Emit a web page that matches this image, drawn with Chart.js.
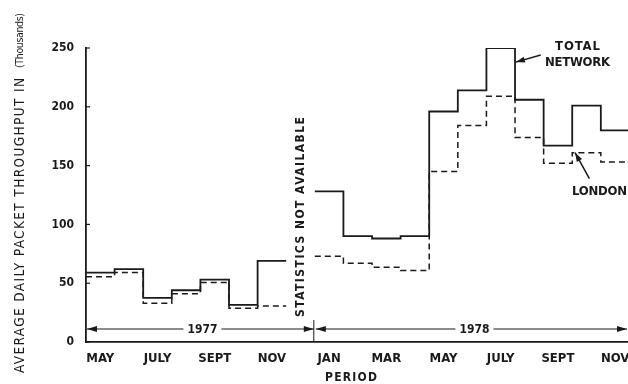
<!DOCTYPE html>
<html>
<head>
<meta charset="utf-8">
<script src="https://cdn.jsdelivr.net/npm/chart.js@4"></script>
<style>
    html, body { margin: 0; padding: 0; background: #fff; }
    #chart { display: block; }
</style>
</head>
<body>
<canvas id="chart" width="628" height="384"></canvas>
<script>
// months from May 1977 (index 0) to Nov 1978 (index 18); Dec 1977 has no data
const totalNetwork = [59, 62, 37.5, 44, 53, 31.5, 69, null, 128, 90, 88, 90, 196, 214, 250, 206, 167, 201, 180];
const london = [55.5, 59, 33, 41, 50.5, 28.7, 30.6, null, 73, 67, 63.5, 60.7, 145, 184, 209, 174, 152, 161, 153];
const tickMonths = [0.5, 2.5, 4.5, 6.5, 8.5, 10.5, 12.5, 14.5, 16.5, 18.5];
const tickLabels = ['MAY', 'JULY', 'SEPT', 'NOV', 'JAN', 'MAR', 'MAY', 'JULY', 'SEPT', 'NOV'];
const yTicks = [0, 50, 100, 150, 200, 250];
const years = [
    { label: '1977', from: 0, to: 8, shift: 2 },
    { label: '1978', from: 8, to: 19, shift: 3 }
];

const FONT = '"DejaVu Sans Condensed", "Liberation Sans Narrow", sans-serif';
const INK = '#1a1a1a';

// each month is drawn as a flat step; runs end at the start of the next month
function toSteps(values) {
    const pts = [];
    values.forEach((v, i) => {
        if (v === null) {
            pts.push({ x: i + 0.5, y: null });
            return;
        }
        pts.push({ x: i, y: v });
        if (i === values.length - 1 || values[i + 1] === null) {
            pts.push({ x: i + 1, y: v });
        }
    });
    return pts;
}

function arrowHead(ctx, x, y, angle, len, w) {
    ctx.save();
    ctx.translate(x, y);
    ctx.rotate(angle);
    ctx.beginPath();
    ctx.moveTo(0, 0);
    ctx.lineTo(-len, -w);
    ctx.lineTo(-len, w);
    ctx.closePath();
    ctx.fill();
    ctx.restore();
}

// draw text starting at x, spread so it is `width` long
function spreadText(ctx, text, x, y, width) {
    ctx.letterSpacing = '0px';
    const base = ctx.measureText(text).width;
    const gap = (width - base) / Math.max(text.length - 1, 1);
    ctx.letterSpacing = gap + 'px';
    ctx.textAlign = 'left';
    ctx.fillText(text, x, y);
    ctx.letterSpacing = '0px';
}

const annotations = {
    id: 'annotations',
    afterDraw(chart) {
        const ctx = chart.ctx;
        const x = chart.scales.x;
        const y = chart.scales.y;
        const area = chart.chartArea;
        ctx.save();
        ctx.fillStyle = INK;
        ctx.strokeStyle = INK;

        // y tick marks inside the axis
        ctx.lineWidth = 1.2;
        yTicks.forEach(t => {
            const py = y.getPixelForValue(t);
            ctx.beginPath();
            ctx.moveTo(area.left, py);
            ctx.lineTo(area.left + 4, py);
            ctx.stroke();
        });

        // year spans
        const yy = area.bottom - 13;
        ctx.font = 'bold 12px ' + FONT;
        ctx.textBaseline = 'middle';
        years.forEach(yr => {
            const x0 = x.getPixelForValue(yr.from) + 1;
            const x1 = Math.min(x.getPixelForValue(yr.to), chart.width) - 1;
            const cx = (x0 + x1) / 2 + yr.shift;
            const half = ctx.measureText(yr.label).width / 2 + 4;
            ctx.lineWidth = 1.2;
            ctx.beginPath();
            ctx.moveTo(x0, yy);
            ctx.lineTo(cx - half, yy);
            ctx.moveTo(cx + half, yy);
            ctx.lineTo(x1, yy);
            ctx.stroke();
            arrowHead(ctx, x0, yy, Math.PI, 10, 3);
            arrowHead(ctx, x1, yy, 0, 10, 3);
            ctx.textAlign = 'center';
            ctx.fillText(yr.label, cx, yy + 1);
        });
        // divider between the years
        const dx = x.getPixelForValue(8) - 1;
        ctx.lineWidth = 1;
        ctx.beginPath();
        ctx.moveTo(dx, area.bottom - 22);
        ctx.lineTo(dx, area.bottom);
        ctx.stroke();

        // y axis title, rotated; runs from y=373 up to y=13
        ctx.save();
        ctx.translate(20, 0);
        ctx.rotate(-Math.PI / 2);
        ctx.font = '13.5px ' + FONT;
        spreadText(ctx, 'AVERAGE DAILY PACKET THROUGHPUT IN', -373, 0, 295);
        ctx.font = '10.5px ' + FONT;
        spreadText(ctx, '(Thousands)', -68, 0, 55);
        ctx.restore();

        ctx.font = 'bold 12px ' + FONT;
        spreadText(ctx, 'PERIOD', 325, 378, 52);

        // statistics note
        ctx.save();
        ctx.translate(x.getPixelForValue(7.5), 0);
        ctx.rotate(-Math.PI / 2);
        ctx.font = 'bold 12px ' + FONT;
        spreadText(ctx, 'STATISTICS NOT AVAILABLE', -317, 0, 200);
        ctx.restore();

        // series labels
        ctx.font = 'bold 13px ' + FONT;
        spreadText(ctx, 'TOTAL', 555, 47, 45);
        spreadText(ctx, 'NETWORK', 545, 63, 65);
        spreadText(ctx, 'LONDON', 572, 192, 55);

        ctx.lineWidth = 1.5;
        let ax0 = x.getPixelForValue(15.9), ay0 = y.getPixelForValue(244);
        let ax1 = x.getPixelForValue(15.03), ay1 = y.getPixelForValue(238);
        ctx.beginPath();
        ctx.moveTo(ax0, ay0);
        ctx.lineTo(ax1, ay1);
        ctx.stroke();
        arrowHead(ctx, ax1, ay1, Math.atan2(ay1 - ay0, ax1 - ax0), 9, 3);

        ax0 = x.getPixelForValue(17.6); ay0 = y.getPixelForValue(139);
        ax1 = x.getPixelForValue(17.1); ay1 = y.getPixelForValue(161);
        ctx.beginPath();
        ctx.moveTo(ax0, ay0);
        ctx.lineTo(ax1, ay1);
        ctx.stroke();
        arrowHead(ctx, ax1, ay1, Math.atan2(ay1 - ay0, ax1 - ax0), 9, 3);

        ctx.restore();
    }
};

new Chart(document.getElementById('chart').getContext('2d'), {
    type: 'line',
    data: {
        datasets: [
            {
                label: 'Total network',
                data: toSteps(totalNetwork),
                borderColor: INK,
                borderWidth: 1.8,
                stepped: true,
                pointRadius: 0,
                fill: false,
                spanGaps: false
            },
            {
                label: 'London',
                data: toSteps(london),
                borderColor: INK,
                borderWidth: 1.5,
                borderDash: [6, 4],
                stepped: true,
                pointRadius: 0,
                fill: false,
                spanGaps: false
            }
        ]
    },
    options: {
        responsive: false,
        animation: false,
        devicePixelRatio: 1,
        layout: { padding: { top: 48, left: 0, right: 0, bottom: 0 } },
        plugins: {
            legend: { display: false },
            tooltip: { enabled: false }
        },
        scales: {
            x: {
                type: 'linear',
                min: 0,
                max: 18.95,
                afterBuildTicks: (scale) => {
                    scale.ticks = tickMonths.map(v => ({ value: v }));
                },
                afterFit: (scale) => {
                    scale.height = 42;
                    scale.paddingLeft = 0;
                    scale.paddingRight = 0;
                },
                grid: { display: false, drawTicks: false },
                border: { display: true, color: INK, width: 1.8 },
                ticks: {
                    autoSkip: false,
                    maxRotation: 0,
                    padding: 9,
                    color: INK,
                    font: { family: FONT, size: 13, weight: 'bold' },
                    callback: (value, index) => tickLabels[index]
                }
            },
            y: {
                min: 0,
                max: 250,
                afterBuildTicks: (scale) => {
                    scale.ticks = yTicks.map(v => ({ value: v }));
                },
                afterFit: (scale) => {
                    scale.width = 86;
                    scale.paddingTop = 0;
                    scale.paddingBottom = 0;
                },
                grid: { display: false, drawTicks: false },
                border: { display: true, color: INK, width: 1.8 },
                ticks: {
                    padding: 12,
                    color: INK,
                    font: { family: FONT, size: 12, weight: 'bold' }
                }
            }
        }
    },
    plugins: [annotations]
});
</script>
</body>
</html>
